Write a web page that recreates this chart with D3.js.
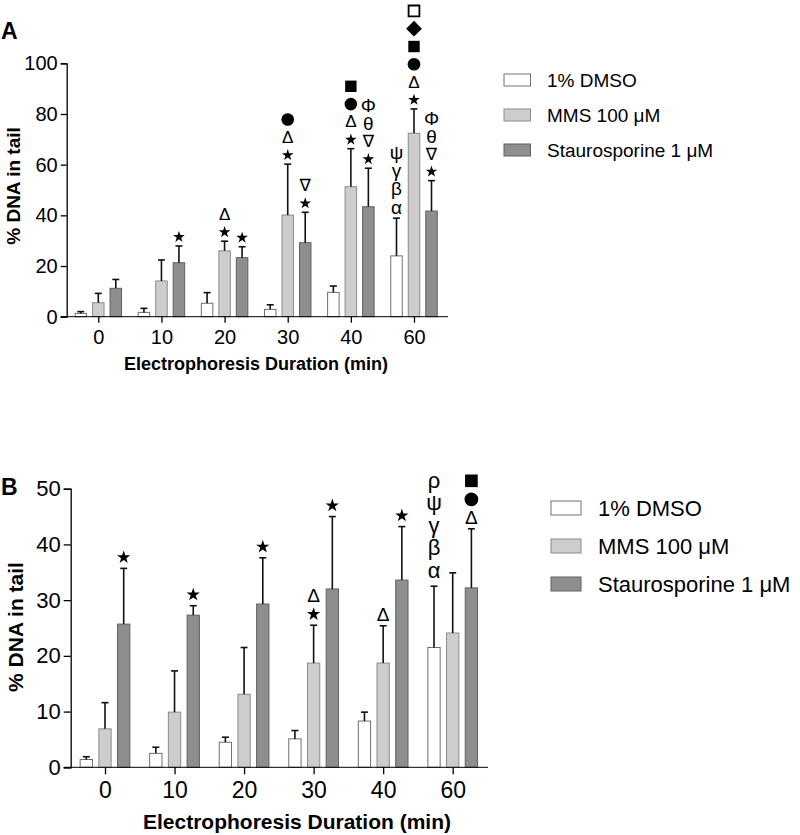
<!DOCTYPE html>
<html>
<head>
<meta charset="utf-8">
<script src="https://cdn.jsdelivr.net/npm/d3@7"></script>
<style>
  body { margin: 0; background: #fff; }
  text { font-family: "Liberation Sans", Arial, sans-serif; fill: #000; }
</style>
</head>
<body>
<svg id="chart" width="800" height="835"></svg>
<script>
// categories
const durations = ["0", "10", "20", "30", "40", "60"];
const groups = ["1% DMSO", "MMS 100 μM", "Staurosporine 1 μM"];
const fills = ["#ffffff", "#cdcdcd", "#8e8e8e"];
const strokes = ["#707070", "#8c8c8c", "#606060"];

// panel A: means and SD
const aDmso = [1.3, 1.7, 5.3, 2.9, 9.6, 24.0];
const aDmsoSd = [0.7, 1.6, 4.2, 1.8, 2.5, 14.9];
const aMms = [5.5, 14.1, 26.0, 40.1, 51.3, 72.4];
const aMmsSd = [3.7, 8.3, 3.8, 20.1, 15.0, 9.6];
const aStau = [11.2, 21.3, 23.3, 29.2, 43.4, 41.7];
const aStauSd = [3.5, 6.6, 4.3, 12.0, 15.2, 12.0];
const aTicks = [0, 20, 40, 60, 80, 100];

// panel A: significance marks, bottom to top
const aDmsoMarks = [[], [], [], [], [], ["α", "β", "γ", "ψ"]];
const aMmsMarks = [[], [], ["★", "Δ"], ["★", "Δ", "●"], ["★", "Δ", "●", "■"], ["★", "Δ", "●", "■", "◆", "□"]];
const aStauMarks = [[], ["★"], ["★"], ["★", "∇"], ["★", "∇", "θ", "Φ"], ["★", "∇", "θ", "Φ"]];

// panel B: means and SD
const bDmso = [1.4, 2.5, 4.5, 5.1, 8.3, 21.5];
const bDmsoSd = [0.5, 1.1, 0.9, 1.5, 1.6, 11.0];
const bMms = [6.9, 9.9, 13.1, 18.7, 18.7, 24.1];
const bMmsSd = [4.7, 7.4, 8.4, 6.8, 6.7, 10.8];
const bStau = [25.7, 27.3, 29.3, 32.0, 33.6, 32.2];
const bStauSd = [10.0, 1.7, 8.3, 13.0, 9.6, 10.6];
const bTicks = [0, 10, 20, 30, 40, 50];

const bDmsoMarks = [[], [], [], [], [], ["α", "β", "γ", "ψ", "ρ"]];
const bMmsMarks = [[], [], [], ["★", "Δ"], ["Δ"], []];
const bStauMarks = [["★"], ["★"], ["★"], ["★"], ["★"], ["Δ", "●", "■"]];

const svg = d3.select('#chart');

// filled / open shapes are drawn as symbols, letters as text
const shapeMarks = {
  '★': { type: d3.symbolStar, r: 1.0 },
  '●': { type: d3.symbolCircle, r: 1.0 },
  '■': { type: d3.symbolSquare, r: 1.0 },
  '◆': { type: d3.symbolSquare, r: 1.0, rotate: 45 },
  '□': { type: d3.symbolSquare, r: 1.0, open: true }
};

function drawMark(g, m, cx, cy, p) {
  const s = shapeMarks[m];
  if (s) {
    const area = {
      '★': p.starArea, '●': p.circleArea, '■': p.squareArea,
      '◆': p.diamondArea, '□': p.squareArea * 0.9
    }[m];
    g.append('path')
      .attr('d', d3.symbol().type(s.type).size(area)())
      .attr('transform', `translate(${cx},${cy})` + (s.rotate ? ` rotate(${s.rotate})` : ''))
      .attr('fill', s.open ? '#fff' : '#000')
      .attr('stroke', s.open ? '#000' : 'none')
      .attr('stroke-width', 1.8);
  } else {
    const greek = m !== 'Δ' && m !== '∇';
    g.append('text')
      .attr('x', cx)
      .attr('y', cy)
      .attr('text-anchor', 'middle')
      .attr('dominant-baseline', 'central')
      .style('font-family', m === '∇' ? '"DejaVu Sans", sans-serif' : '"Liberation Sans", Arial, sans-serif')
      .style('font-size', (greek ? p.greekSize : p.deltaSize) + 'px')
      .text(m);
  }
}

function drawPanel(p) {
  const g = svg.append('g');
  const x = d3.scalePoint().domain(durations).range([p.x0, p.x1]);
  const y = d3.scaleLinear().domain([0, p.yMax]).range([p.yBottom, p.yTop]);

  const series = [
    { means: p.dmso, sd: p.dmsoSd, marks: p.dmsoMarks },
    { means: p.mms, sd: p.mmsSd, marks: p.mmsMarks },
    { means: p.stau, sd: p.stauSd, marks: p.stauMarks }
  ];

  series.forEach((s, si) => {
    const off = (si - 1) * p.step;
    const rows = durations.map((d, i) => ({ d: d, v: s.means[i], top: s.means[i] + s.sd[i], marks: s.marks[i] }));
    const cx = r => x(r.d) + off;

    g.append('g').selectAll('rect').data(rows).enter().append('rect')
      .attr('x', r => cx(r) - p.barW / 2)
      .attr('y', r => y(r.v))
      .attr('width', p.barW)
      .attr('height', r => y(0) - y(r.v))
      .attr('fill', fills[si])
      .attr('stroke', strokes[si])
      .attr('stroke-width', 1);

    // error bars, upper only
    const eb = g.append('g').attr('stroke', '#111').attr('stroke-width', 1.6);
    eb.selectAll('line.v').data(rows).enter().append('line')
      .attr('x1', cx).attr('x2', cx)
      .attr('y1', r => y(r.v)).attr('y2', r => y(r.top));
    eb.selectAll('line.c').data(rows).enter().append('line')
      .attr('x1', r => cx(r) - 3.5).attr('x2', r => cx(r) + 3.5)
      .attr('y1', r => y(r.top)).attr('y2', r => y(r.top));

    // significance marks stacked above the error bar
    rows.forEach(r => {
      const allGreek = r.marks.length && r.marks.every(m => /[α-ω]/.test(m));
      const gap = allGreek ? p.greekGap : p.markGap;
      const stepY = allGreek ? p.greekStep : p.markStep;
      r.marks.forEach((m, k) => {
        drawMark(g, m, cx(r), y(r.top) - gap - k * stepY, p);
      });
    });
  });

  // y axis
  const yAxis = g.append('g')
    .attr('transform', `translate(${p.yAxisX},0)`)
    .call(d3.axisLeft(y).tickValues(p.ticks).tickSize(p.tickLen).tickPadding(3));
  yAxis.selectAll('text').style('font-size', p.yTickSize + 'px');

  // x axis
  const xAxis = g.append('g')
    .attr('transform', `translate(0,${p.yBottom})`)
    .call(d3.axisBottom(x).tickSize(p.tickLen).tickPadding(p.xTickPad));
  xAxis.select('.domain').remove();
  xAxis.append('line')
    .attr('x1', p.yAxisX - p.tickLen).attr('x2', p.xEnd)
    .attr('stroke', '#000');
  xAxis.selectAll('text').style('font-size', p.xTickSize + 'px');
  g.selectAll('.domain, .tick line').attr('stroke', '#000').attr('stroke-width', 1.3);

  // titles
  g.append('text')
    .attr('x', p.xTitleX).attr('y', p.xTitleY)
    .attr('text-anchor', 'middle')
    .style('font-weight', 'bold').style('font-size', p.titleSize + 'px')
    .text('Electrophoresis Duration (min)');
  g.append('text')
    .attr('transform', `translate(${p.yTitleX},${p.yTitleY}) rotate(-90)`)
    .attr('text-anchor', 'middle')
    .style('font-weight', 'bold').style('font-size', p.yTitleSize + 'px')
    .text('% DNA in tail');
  g.append('text')
    .attr('x', 1).attr('y', p.letterY)
    .style('font-weight', 'bold').style('font-size', '23px')
    .text(p.letter);

  // legend
  const leg = g.append('g');
  groups.forEach((name, i) => {
    const cy = p.legY + i * p.legStep;
    leg.append('rect')
      .attr('x', p.legX).attr('y', cy - p.legH / 2)
      .attr('width', p.legW).attr('height', p.legH)
      .attr('fill', fills[i]).attr('stroke', strokes[i]);
    leg.append('text')
      .attr('x', p.legTextX).attr('y', cy)
      .attr('dominant-baseline', 'central')
      .style('font-size', p.legSize + 'px')
      .text(name);
  });
}

drawPanel({
  letter: 'A', letterY: 39,
  dmso: aDmso, dmsoSd: aDmsoSd, mms: aMms, mmsSd: aMmsSd, stau: aStau, stauSd: aStauSd,
  dmsoMarks: aDmsoMarks, mmsMarks: aMmsMarks, stauMarks: aStauMarks,
  ticks: aTicks, yMax: 100,
  x0: 98.3, x1: 414, xEnd: 448, step: 17.5, barW: 11.5,
  yTop: 63.3, yBottom: 316.7, yAxisX: 66.7, tickLen: 6,
  yTickSize: 20, xTickSize: 20, xTickPad: 7,
  markGap: 9, markStep: 17.8, greekGap: 11, greekStep: 18.3,
  starArea: 42, circleArea: 125, squareArea: 130, diamondArea: 125,
  deltaSize: 17, greekSize: 19,
  xTitleX: 256, xTitleY: 370, titleSize: 18,
  yTitleX: 20, yTitleY: 186, yTitleSize: 19,
  legX: 504, legW: 26.5, legH: 12, legY: 80, legStep: 35, legTextX: 547, legSize: 19
});

drawPanel({
  letter: 'B', letterY: 495,
  dmso: bDmso, dmsoSd: bDmsoSd, mms: bMms, mmsSd: bMmsSd, stau: bStau, stauSd: bStauSd,
  dmsoMarks: bDmsoMarks, mmsMarks: bMmsMarks, stauMarks: bStauMarks,
  ticks: bTicks, yMax: 50,
  x0: 105, x1: 452.7, xEnd: 488, step: 18.7, barW: 12.3,
  yTop: 488.7, yBottom: 767.3, yAxisX: 70.7, tickLen: 7,
  yTickSize: 22, xTickSize: 23, xTickPad: 7,
  markGap: 11, markStep: 18.5, greekGap: 16, greekStep: 22.5,
  starArea: 55, circleArea: 150, squareArea: 160, diamondArea: 140,
  deltaSize: 19, greekSize: 22,
  xTitleX: 297, xTitleY: 829, titleSize: 21,
  yTitleX: 23, yTitleY: 627, yTitleSize: 21,
  legX: 551, legW: 30, legH: 14, legY: 508, legStep: 38, legTextX: 598, legSize: 22
});
</script>
</body>
</html>
